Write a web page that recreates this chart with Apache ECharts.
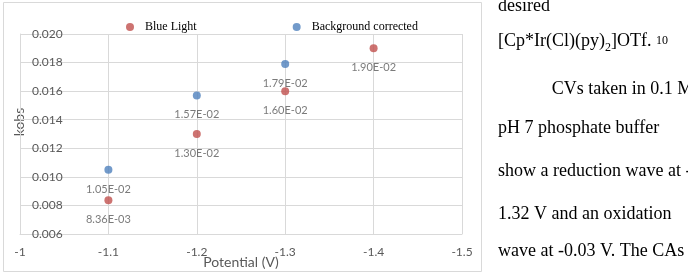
<!DOCTYPE html>
<html>
<head>
<meta charset="utf-8">
<script src="https://cdn.jsdelivr.net/npm/echarts@6/dist/echarts.min.js"></script>
<style>
html,body{margin:0;padding:0;background:#fff;}
#c{width:688px;height:273px;}
</style>
</head>
<body>
<div id="c"></div>
<script>
// ---- data ----
const seriesNames = ['Blue Light', 'Background corrected'];
const blueLightPotential = [-1.1, -1.2, -1.3, -1.4];
const blueLightKobs = [0.00836, 0.0130, 0.0160, 0.0190];
const bgPotential = [-1.1, -1.2, -1.3];
const bgKobs = [0.0105, 0.0157, 0.0179];
const xAxisRange = { min: -1.5, max: -1, interval: 0.1 };
const yAxisRange = { min: 0.006, max: 0.020, interval: 0.002 };
const xAxisTitle = 'Potential (V)';
const yAxisTitle = 'kobs';
const docLines = [
  'desired',
  'CVs taken in 0.1 M',
  'pH 7 phosphate buffer',
  'show a reduction wave at -',
  '1.32 V and an oxidation',
  'wave at -0.03 V. The CAs'
];
const formulaParts = ['[Cp*Ir(Cl)(py)', '2', ']OTf. ', '10'];

// ---- helpers ----
function sci(v) {
  const parts = v.toExponential(2).split('e');
  const n = parseInt(parts[1], 10);
  return parts[0] + 'E' + (n < 0 ? '-' : '+') + String(Math.abs(n)).padStart(2, '0');
}
function pairs(xs, ys) { return xs.map((x, i) => [x, ys[i]]); }

const sansFont = 'Lato, "Open Sans", sans-serif';
const serifFont = '"Liberation Serif", "Times New Roman", serif';
const grey = '#595959';
const gridGrey = '#d9d9d9';

const mctx = document.createElement('canvas').getContext('2d');
function textWidth(t, size) { mctx.font = size + 'px "Liberation Serif"'; return mctx.measureText(t).width; }
// convert a baseline y into the centre y used with verticalAlign 'middle'
function mid(baseline, size) { return baseline - 0.3375 * size; }

const labelStyle = {
  show: true,
  position: 'bottom',
  distance: 10,
  formatter: p => sci(p.value[1]),
  color: grey,
  fontFamily: sansFont,
  fontSize: 11
};

const docPos = [
  { x: 498, b: 12 },
  { x: 551.7, b: 95 },
  { x: 498, b: 134 },
  { x: 498, b: 177 },
  { x: 498, b: 220 },
  { x: 498, b: 257 }
];

const graphics = [
  { type: 'rect', z: -1, shape: { x: 3.5, y: 2.5, width: 478, height: 269 }, style: { fill: '#fff', stroke: gridGrey, lineWidth: 1 } },
  { type: 'text', x: 19.5, y: 122, rotation: Math.PI / 2,
    style: { text: yAxisTitle, fontFamily: sansFont, fontSize: 14, fill: grey, align: 'center', verticalAlign: 'middle' } }
];
docLines.forEach((t, i) => {
  graphics.push({ type: 'text', x: docPos[i].x, y: mid(docPos[i].b, 18),
    style: { text: t, fontFamily: serifFont, fontSize: 18, fill: '#000', align: 'left', verticalAlign: 'middle' } });
});
// formula line with subscript and superscript
(function () {
  const sizes = [18, 12, 18, 12];
  const baselines = [47, 51.5, 47, 45];
  let x = 498;
  formulaParts.forEach((t, i) => {
    graphics.push({ type: 'text', x: x, y: mid(baselines[i], sizes[i]),
      style: { text: t, fontFamily: serifFont, fontSize: sizes[i], fill: '#000', align: 'left', verticalAlign: 'middle' } });
    x += textWidth(t, sizes[i]);
  });
})();

const chart = echarts.init(document.getElementById('c'), null, { renderer: 'canvas' });
chart.setOption({
  backgroundColor: '#fff',
  animation: false,
  grid: { left: 20, right: 226, top: 34, bottom: 39, containLabel: false, outerBoundsMode: 'none' },
  legend: {
    data: seriesNames,
    left: 126, top: 21, padding: 0,
    icon: 'circle', itemWidth: 20, itemHeight: 8, itemGap: 96,
    textStyle: { fontFamily: serifFont, fontSize: 12, color: '#000', padding: [0, 0, 6, 0] }
  },
  xAxis: {
    type: 'value', inverse: true,
    min: xAxisRange.min, max: xAxisRange.max, interval: xAxisRange.interval,
    name: xAxisTitle, nameLocation: 'middle', nameGap: 21, nameMoveOverlap: false,
    nameTextStyle: { color: grey, fontFamily: sansFont, fontSize: 14 },
    axisLine: { show: true, lineStyle: { color: gridGrey } },
    axisTick: { show: false },
    splitLine: { show: true, lineStyle: { color: gridGrey } },
    axisLabel: { color: grey, fontFamily: sansFont, fontSize: 12, margin: 12,
      formatter: v => String(Math.round(v * 10) / 10) }
  },
  yAxis: {
    type: 'value',
    min: yAxisRange.min, max: yAxisRange.max, interval: yAxisRange.interval,
    axisLine: { show: true, lineStyle: { color: gridGrey } },
    axisTick: { show: false },
    splitLine: { show: true, lineStyle: { color: gridGrey } },
    axisLabel: { inside: true, margin: 12, color: grey, fontFamily: sansFont, fontSize: 12,
      formatter: v => v.toFixed(3) }
  },
  series: [
    { name: seriesNames[0], type: 'scatter', symbolSize: 8, itemStyle: { color: '#C0504D' },
      data: pairs(blueLightPotential, blueLightKobs), label: labelStyle },
    { name: seriesNames[1], type: 'scatter', symbolSize: 8, itemStyle: { color: '#4F81BD' },
      data: pairs(bgPotential, bgKobs), label: labelStyle }
  ],
  graphic: graphics
});
</script>
</body>
</html>
